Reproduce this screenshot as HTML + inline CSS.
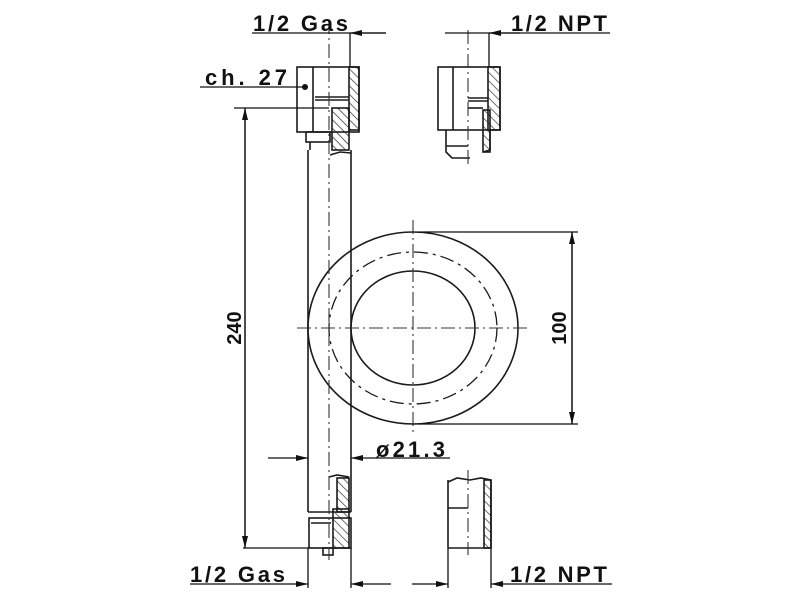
<!DOCTYPE html>
<html><head><meta charset="utf-8"><style>
html,body{margin:0;padding:0;background:#fff;width:800px;height:600px;overflow:hidden}
text{font-family:"Liberation Sans",sans-serif;font-weight:bold;fill:#111}
</style></head><body>
<svg width="800" height="600" viewBox="0 0 800 600" xmlns="http://www.w3.org/2000/svg">
<defs>
<pattern id="h" width="6" height="6" patternUnits="userSpaceOnUse" patternTransform="rotate(-45)">
<line x1="0" y1="0" x2="0" y2="6" stroke="#222" stroke-width="1.3"/></pattern>
<marker id="a" viewBox="0 0 12 6" refX="12" refY="3" markerWidth="13" markerHeight="6" orient="auto" markerUnits="userSpaceOnUse"><path d="M0,0 L12,3 L0,6z" fill="#111"/></marker>
</defs>
<g stroke="#1a1a1a" stroke-width="1.6" fill="none">
<line x1="308" y1="150" x2="308" y2="512"/>
<line x1="351" y1="150" x2="351" y2="512"/>
<line x1="308" y1="512" x2="351" y2="512"/>
<rect x="297" y="67" width="62" height="65"/>
<line x1="313" y1="67" x2="313" y2="132"/>
<rect x="349" y="67" width="10" height="63" fill="url(#h)"/>
<rect x="332" y="108" width="17" height="42" fill="url(#h)"/>
<line x1="315" y1="97" x2="349" y2="97"/><line x1="315" y1="100" x2="349" y2="100"/>
<rect x="306" y="132" width="24" height="10"/>
<line x1="310" y1="142" x2="310" y2="150"/>
<path d="M330,155 L340,152 L351,153"/>
<path d="M329,477 L337,475 L349,477"/>
<rect x="337" y="478" width="12" height="34" fill="url(#h)"/>
<rect x="309" y="518" width="42" height="30"/>
<rect x="333" y="509" width="16" height="39" fill="url(#h)"/>
<line x1="311" y1="523" x2="331" y2="523"/>
<rect x="323" y="548" width="10" height="7"/>
<rect x="438" y="67" width="62" height="63"/>
<line x1="453" y1="67" x2="453" y2="130"/>
<rect x="488" y="67" width="12" height="63" fill="url(#h)"/>
<rect x="483" y="110" width="7" height="42" fill="url(#h)"/>
<line x1="468" y1="98" x2="488" y2="98"/><line x1="468" y1="101" x2="488" y2="101"/>
<line x1="468" y1="108" x2="483" y2="108"/>
<path d="M446,130 L446,152 L452,158 L470,158 M483,152 L490,150 L490,130"/>
<line x1="446" y1="146" x2="468" y2="146"/>
<path d="M448,482 L457,478 L470,480 L481,478 L491,480"/>
<line x1="448" y1="480" x2="448" y2="548"/>
<line x1="491" y1="480" x2="491" y2="548"/>
<rect x="484" y="480" width="7" height="68" fill="url(#h)"/>
<line x1="448" y1="508" x2="468" y2="508"/>
<line x1="448" y1="548" x2="491" y2="548"/>
<ellipse cx="413" cy="328" rx="105" ry="96"/>
<ellipse cx="413" cy="328" rx="62" ry="57"/>
<ellipse cx="413" cy="328" rx="84" ry="76" stroke-dasharray="14,5,3,5" stroke-width="1.3"/>
</g>
<g stroke="#333" stroke-width="1.1" stroke-dasharray="14,4,2,4" fill="none">
<line x1="329" y1="20" x2="329" y2="560"/>
<line x1="468" y1="30" x2="468" y2="165"/>
<line x1="468" y1="470" x2="468" y2="555"/>
<line x1="413" y1="220" x2="413" y2="435"/>
<line x1="297" y1="328" x2="527" y2="328"/>
</g>
<g stroke="#111" stroke-width="1.3" fill="none">
<line x1="252" y1="33" x2="386" y2="33"/>
<line x1="386" y1="33" x2="350" y2="33" marker-end="url(#a)"/>
<line x1="350" y1="33" x2="350" y2="67"/>
<line x1="445" y1="33" x2="610" y2="33"/>
<line x1="520" y1="33" x2="489" y2="33" marker-end="url(#a)"/>
<line x1="489" y1="33" x2="489" y2="67"/>
<line x1="200" y1="87" x2="305" y2="87"/>
<line x1="234" y1="108" x2="329" y2="108"/>
<line x1="245" y1="108" x2="245" y2="548" marker-end="url(#a)"/>
<line x1="245" y1="548" x2="245" y2="108" marker-end="url(#a)"/>
<line x1="243" y1="548" x2="309" y2="548"/>
<line x1="268" y1="458" x2="308" y2="458" marker-end="url(#a)"/>
<line x1="450" y1="458" x2="351" y2="458" marker-end="url(#a)"/>
<line x1="418" y1="232" x2="578" y2="232"/>
<line x1="418" y1="424" x2="578" y2="424"/>
<line x1="572" y1="232" x2="572" y2="424" marker-end="url(#a)"/>
<line x1="572" y1="424" x2="572" y2="232" marker-end="url(#a)"/>
<line x1="308" y1="548" x2="308" y2="588"/>
<line x1="351" y1="548" x2="351" y2="588"/>
<line x1="190" y1="584" x2="308" y2="584" marker-end="url(#a)"/>
<line x1="391" y1="584" x2="351" y2="584" marker-end="url(#a)"/>
<line x1="448" y1="548" x2="448" y2="588"/>
<line x1="491" y1="548" x2="491" y2="588"/>
<line x1="412" y1="584" x2="448" y2="584" marker-end="url(#a)"/>
<line x1="612" y1="584" x2="491" y2="584" marker-end="url(#a)"/>
</g>
<circle cx="305" cy="87" r="3" fill="#111"/>
<g font-size="22">
<text x="253" y="31" textLength="95">1/2 Gas</text>
<text x="511" y="31" textLength="96">1/2 NPT</text>
<text x="205" y="85" textLength="82">ch. 27</text>
<text x="376" y="457" textLength="69">ø21.3</text>
<text x="190" y="582" textLength="95">1/2 Gas</text>
<text x="510" y="582" textLength="97">1/2 NPT</text>
<text transform="translate(241,328) rotate(-90)" text-anchor="middle" font-size="20">240</text>
<text transform="translate(566,328) rotate(-90)" text-anchor="middle" font-size="20">100</text>
</g>
</svg>
</body></html>
